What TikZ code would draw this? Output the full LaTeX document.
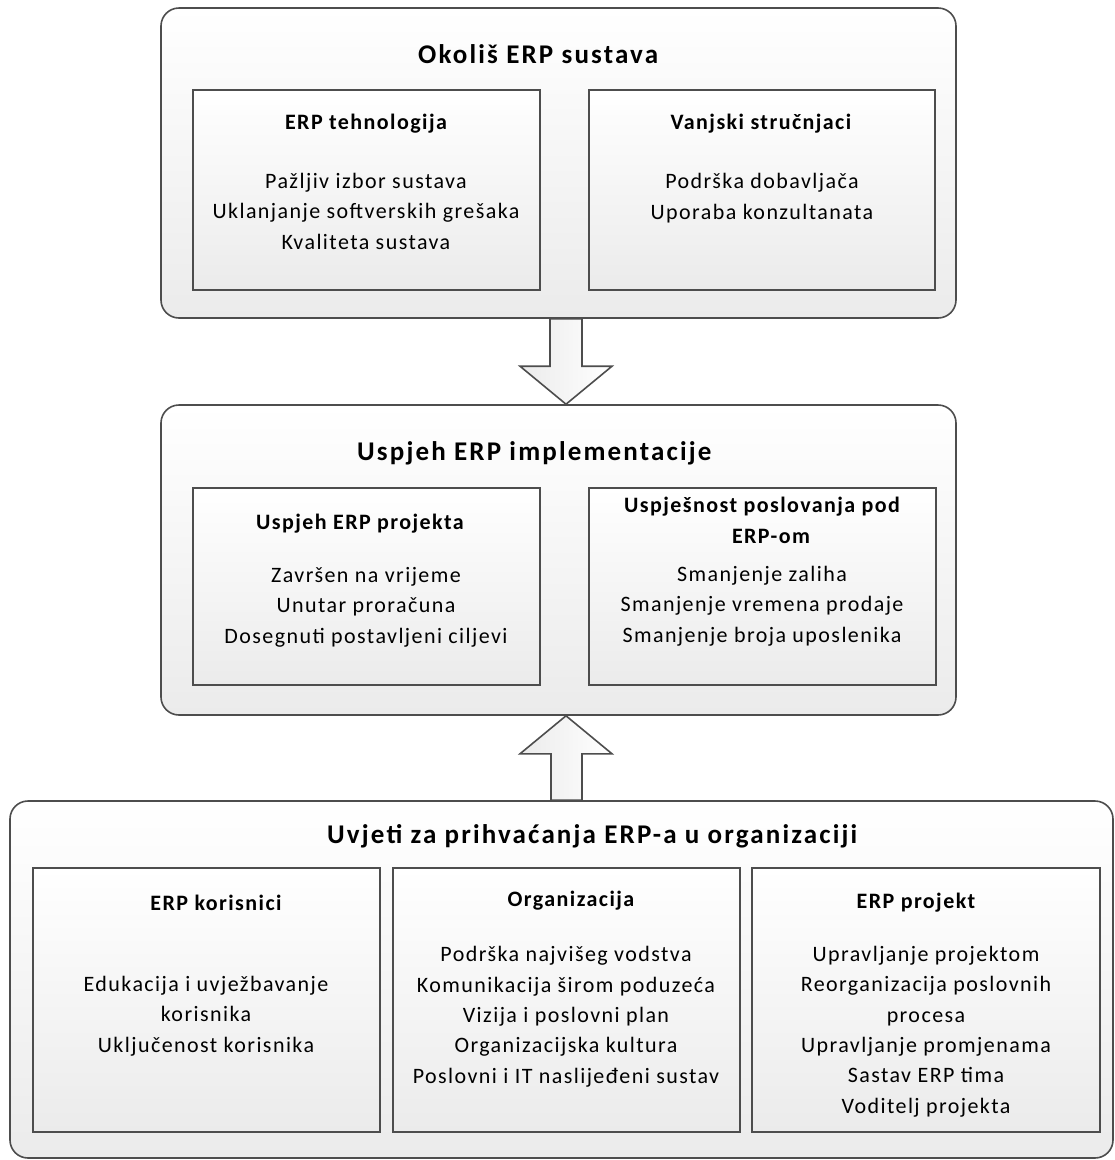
\documentclass[tikz,border=0pt]{standalone}
\usepackage{fontspec}
\setmainfont{Carlito}[LetterSpace=6.5]
\usetikzlibrary{calc}
\definecolor{edge}{HTML}{4D4D4D}
\definecolor{shadeend}{HTML}{EBEBEB}
\begin{document}
\begin{tikzpicture}[x=1pt,y=-1pt,
  outerbox/.style={draw=edge, line width=1.6pt, rounded corners=18pt, top color=white, bottom color=shadeend, inner sep=0pt},
  innerbox/.style={draw=edge, line width=1.6pt, top color=white, bottom color=shadeend, inner sep=0pt},
  titletext/.style={font=\fontsize{27}{32}\selectfont\bfseries\addfontfeatures{LetterSpace=8}, anchor=base west, inner sep=0pt},
  headtext/.style={font=\fontsize{22}{31}\selectfont\bfseries, anchor=base, align=center, inner sep=0pt},
  bodytext/.style={font=\fontsize{22}{30.3}\selectfont, anchor=base, align=center, inner sep=0pt},
  blockarrow/.style={draw=edge, line width=1.6pt, line join=miter, left color=shadeend, right color=white}]
\useasboundingbox (0,0) rectangle (1115,1160);
% outer boxes
\node[outerbox, minimum width=795pt, minimum height=310pt] (top) at (558.5,163) {};
\node[outerbox, minimum width=795pt, minimum height=310pt] (mid) at (558.5,560) {};
\node[outerbox, minimum width=1103pt, minimum height=357pt] (bot) at (561.5,979.5) {};
% inner boxes
\node[innerbox, minimum width=347pt, minimum height=200pt] (tl) at (366.5,190) {};
\node[innerbox, minimum width=346pt, minimum height=200pt] (tr) at (762,190) {};
\node[innerbox, minimum width=347pt, minimum height=197pt] (ml) at (366.5,586.5) {};
\node[innerbox, minimum width=347pt, minimum height=197pt] (mr) at (762.5,586.5) {};
\node[innerbox, minimum width=347pt, minimum height=264pt] (b1) at (206.5,1000) {};
\node[innerbox, minimum width=347pt, minimum height=264pt] (b2) at (566.5,1000) {};
\node[innerbox, minimum width=348pt, minimum height=264pt] (b3) at (926,1000) {};
% block arrows
\coordinate (ax) at (566,0);
\draw[blockarrow] ($(top.south -| ax)+(-16,0)$) -- ($(top.south -| ax)+(16,0)$)
  -- ($(mid.north -| ax)+(16,-38)$) -- ($(mid.north -| ax)+(46,-38)$)
  -- (mid.north -| ax) -- ($(mid.north -| ax)+(-46,-38)$)
  -- ($(mid.north -| ax)+(-16,-38)$) -- cycle;
\draw[blockarrow] ($(bot.north -| ax)+(-15,0)$) -- ($(bot.north -| ax)+(16,0)$)
  -- ($(mid.south -| ax)+(16,38)$) -- ($(mid.south -| ax)+(46,38)$)
  -- (mid.south -| ax) -- ($(mid.south -| ax)+(-46,38)$)
  -- ($(mid.south -| ax)+(-15,38)$) -- cycle;
% texts (multi-line nodes are placed by the baseline of their last line)
\node[titletext] (t1) at (418,63) {Okoliš ERP sustava};
\node[headtext] (htl) at (366,129) {ERP tehnologija};
\node[bodytext] (btl) at (366,249) {Pažljiv izbor sustava\\Uklanjanje softverskih grešaka\\Kvaliteta sustava};
\node[headtext] (htr) at (761,129) {Vanjski stručnjaci};
\node[bodytext] (btr) at (762,219) {Podrška dobavljača\\Uporaba konzultanata};
\node[titletext] (t2) at (357,460) {Uspjeh ERP implementacije};
\node[headtext] (hml) at (360,529) {Uspjeh ERP projekta};
\node[bodytext] (bml) at (366,643) {Završen na vrijeme\\Unutar proračuna\\Dosegnuti postavljeni ciljevi};
\node[headtext] (hmr) at (762,543) {Uspješnost poslovanja pod\\\hspace*{18pt}ERP-om};
\node[bodytext] (bmr) at (762,642) {Smanjenje zaliha\\Smanjenje vremena prodaje\\Smanjenje broja uposlenika};
\node[titletext] (t3) at (327,843) {Uvjeti za prihvaćanja ERP-a u organizaciji};
\node[headtext] (hb1) at (216,910) {ERP korisnici};
\node[bodytext] (bb1) at (206,1052) {Edukacija i uvježbavanje\\korisnika\\Uključenost korisnika};
\node[headtext] (hb2) at (571,906) {Organizacija};
\node[bodytext] (bb2) at (566,1083) {Podrška najvišeg vodstva\\Komunikacija širom poduzeća\\Vizija i poslovni plan\\Organizacijska kultura\\Poslovni i IT naslijeđeni sustav};
\node[headtext] (hb3) at (916,908) {ERP projekt};
\node[bodytext] (bb3) at (926,1113) {Upravljanje projektom\\Reorganizacija poslovnih\\procesa\\Upravljanje promjenama\\Sastav ERP tima\\Voditelj projekta};
\end{tikzpicture}
\end{document}
